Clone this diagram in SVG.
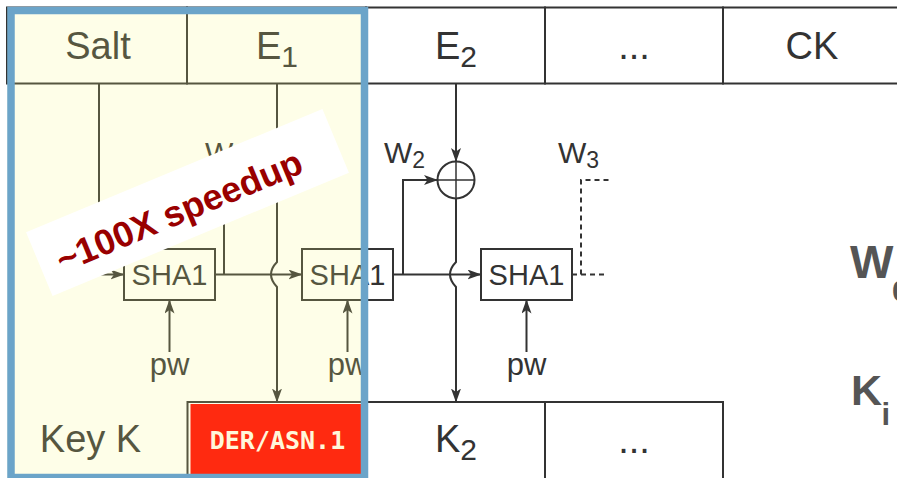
<svg xmlns="http://www.w3.org/2000/svg" width="897" height="478" viewBox="0 0 897 478">
<style>
.cell{fill:none;stroke:#333;stroke-width:2}
.box{fill:#fff;stroke:#333;stroke-width:2}
.ln{fill:none;stroke:#333;stroke-width:2}
.dash{fill:none;stroke:#333;stroke-width:2;stroke-dasharray:5 4}
.t{font-family:"Liberation Sans",Arial,sans-serif;fill:#333}
.big{font-size:38px}
.mid{font-size:29px}
.b{font-family:"Liberation Sans",Arial,sans-serif;font-weight:bold;fill:#555}
</style>
<defs>
<marker id="arr" markerUnits="userSpaceOnUse" markerWidth="14" markerHeight="10" viewBox="0 0 14 10" refX="13.5" refY="5" orient="auto">
<path d="M0,0 L14,5 L0,10 L3.5,5 Z" fill="#333"/>
</marker>
</defs>
<rect width="897" height="478" fill="#fff"/>

<g id="header">
<g id="cell-salt"><rect class="cell" x="7" y="7.5" width="180" height="76"/><text class="t big" x="98" y="59" text-anchor="middle">Salt</text></g>
<g id="cell-e1"><rect class="cell" x="187" y="7.5" width="179" height="76"/><text class="t big" x="277" y="59" text-anchor="middle">E<tspan font-size="30" dy="8">1</tspan></text></g>
<g id="cell-e2"><rect class="cell" x="366" y="7.5" width="179" height="76"/><text class="t big" x="456" y="59" text-anchor="middle">E<tspan font-size="30" dy="8">2</tspan></text></g>
<g id="cell-dots"><rect class="cell" x="545" y="7.5" width="178" height="76"/><text class="t big" x="634" y="59" text-anchor="middle">...</text></g>
<g id="cell-ck"><rect class="cell" x="723" y="7.5" width="180" height="76"/><text class="t big" x="812" y="59" text-anchor="middle">CK</text></g>
</g>

<g id="bottom-row">
<g id="cell-keyk"><text class="t big" x="90.5" y="452" text-anchor="middle">Key K</text></g>
<g id="cell-der-outline"><rect class="cell" x="187.5" y="402" width="178.5" height="90"/></g>
<g id="cell-k2"><rect class="cell" x="366" y="402" width="179" height="90"/><text class="t big" x="456" y="452" text-anchor="middle">K<tspan font-size="30" dy="8">2</tspan></text></g>
<g id="cell-kdots"><rect class="cell" x="545" y="402" width="178" height="90"/><text class="t big" x="634" y="453" text-anchor="middle">...</text></g>
</g>

<g id="connectors">
<path class="ln" d="M99,83.5 V274.5 H124" marker-end="url(#arr)"/>
<path class="ln" d="M277,83.5 V161.5" marker-end="url(#arr)"/>
<path class="ln" d="M277,198.5 V262 Q265,274.5 277,287 V402" marker-end="url(#arr)"/>
<path class="ln" d="M215,274.5 H302" marker-end="url(#arr)"/>
<path class="ln" d="M224,274.5 V180 H258.5" marker-end="url(#arr)"/>
<path class="ln" d="M169.5,352 V300" marker-end="url(#arr)"/>
<path class="ln" d="M456,83.5 V161.5" marker-end="url(#arr)"/>
<path class="ln" d="M456,198.5 V262 Q444,274.5 456,287 V402" marker-end="url(#arr)"/>
<path class="ln" d="M393,274.5 H481" marker-end="url(#arr)"/>
<path class="ln" d="M403,274.5 V180 H437.5" marker-end="url(#arr)"/>
<path class="ln" d="M347.5,352 V300" marker-end="url(#arr)"/>
<path class="ln" d="M526.5,352 V300" marker-end="url(#arr)"/>
<path class="dash" d="M572,274.5 H607"/>
<path class="dash" d="M581,274.5 V180 H610"/>
</g>

<g id="xor1"><circle class="ln" cx="277" cy="180" r="18.5"/><path d="M258.5,180 H295.5 M277,161.5 V198.5" stroke="#333" stroke-width="1.5"/></g>
<g id="xor2"><circle class="ln" cx="456" cy="180" r="18.5"/><path d="M437.5,180 H474.5 M456,161.5 V198.5" stroke="#333" stroke-width="1.5"/></g>

<g id="sha1-1"><rect class="box" x="124" y="249" width="91" height="51"/><text class="t mid" x="169.5" y="285" text-anchor="middle">SHA1</text></g>
<g id="sha1-2"><rect class="box" x="302" y="249" width="91" height="51"/><text class="t mid" x="347.5" y="285" text-anchor="middle">SHA1</text></g>
<g id="sha1-3"><rect class="box" x="481" y="249" width="91" height="51"/><text class="t mid" x="526.5" y="285" text-anchor="middle">SHA1</text></g>

<g id="labels">
<text class="t" font-size="30" x="205" y="163">W<tspan font-size="23" dy="5">1</tspan></text>
<text class="t" font-size="30" x="384" y="163">W<tspan font-size="23" dy="5">2</tspan></text>
<text class="t" font-size="30" x="558" y="163">W<tspan font-size="23" dy="5">3</tspan></text>
<text class="t" font-size="31" x="169.5" y="375" text-anchor="middle">pw</text>
<text class="t" font-size="31" x="347.5" y="375" text-anchor="middle">pw</text>
<text class="t" font-size="31" x="526.5" y="375" text-anchor="middle">pw</text>
</g>

<g id="formulas">
<text class="b" font-size="46" x="850" y="278">W<tspan font-size="30" x="892" y="301">0</tspan></text>
<text class="b" font-size="43" x="851" y="405">K<tspan font-size="31" x="881.5" y="425">i</tspan></text>
</g>

<rect id="highlight" x="7" y="7" width="361" height="471" fill="rgb(250,250,128)" fill-opacity="0.18"/>

<g id="der-asn1">
<rect x="190.5" y="404" width="176" height="80" fill="#ff2a10"/>
<text x="277.5" y="449" text-anchor="middle" font-family="'DejaVu Sans Mono',monospace" font-weight="bold" font-size="25" fill="#fff7da">DER/ASN.1</text>
</g>

<g id="speedup-banner" transform="translate(187.5,202.5) rotate(-22.6)">
<rect x="-160.5" y="-34.5" width="321" height="69" fill="#fff"/>
<text x="-11" y="17" text-anchor="middle" font-family="'Liberation Sans',Arial,sans-serif" font-weight="bold" font-size="36" fill="#990000">~100X speedup</text>
</g>

<rect id="blue-frame" x="11" y="10.5" width="353.5" height="467" fill="none" stroke="#6ba4c9" stroke-width="7.5"/>
</svg>
